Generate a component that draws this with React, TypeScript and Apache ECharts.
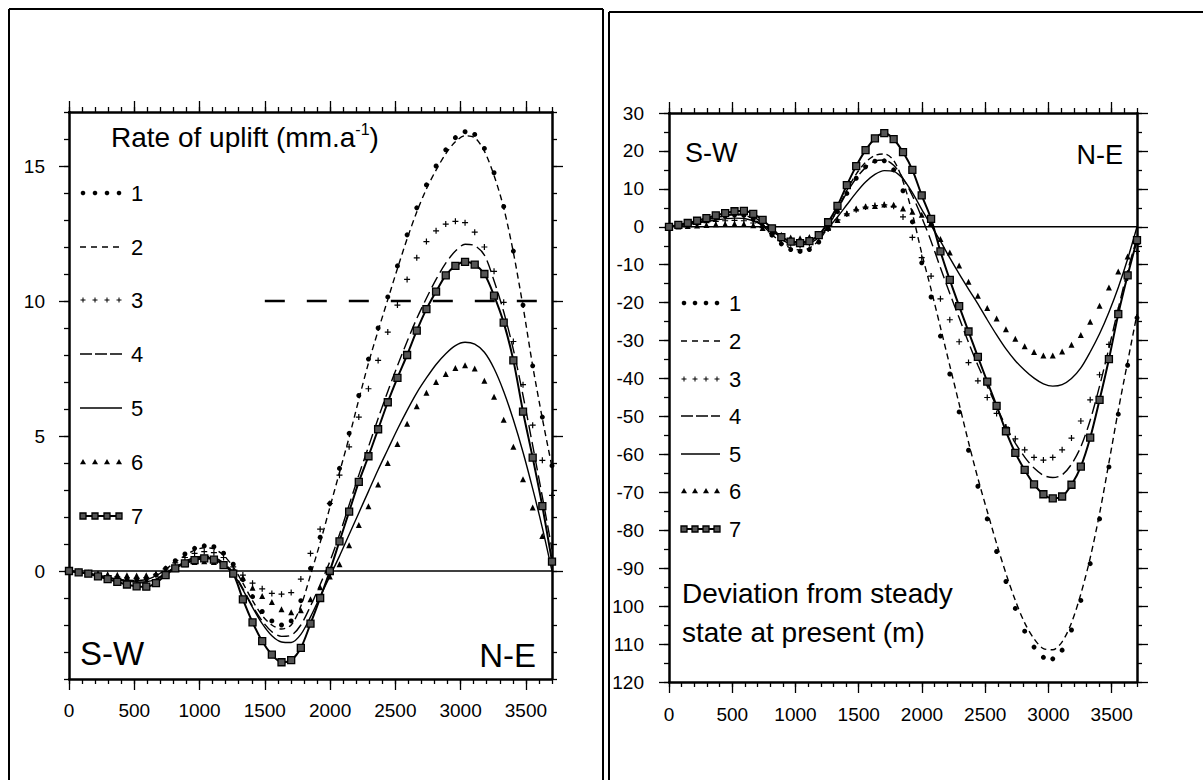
import React, { useEffect, useRef } from "react";
import * as echarts from "echarts";

const FONT = "'Liberation Sans', Arial, Helvetica, sans-serif";

// distance along the profile (m)
const xs = [0, 74, 148, 222, 296, 370, 444, 518, 592, 666, 740, 814, 888, 962, 1036, 1110, 1184, 1258, 1332, 1406, 1480, 1554, 1628, 1702, 1776, 1850, 1924, 1998, 2072, 2146, 2220, 2294, 2368, 2442, 2516, 2590, 2664, 2738, 2812, 2886, 2960, 3034, 3108, 3182, 3256, 3330, 3404, 3478, 3552, 3626, 3700];

const seriesNames = ["1", "2", "3", "4", "5", "6", "7"];

// Left panel: rate of uplift (mm/a)
const upliftS1 = [0, -0.05, -0.1, -0.15, -0.22, -0.28, -0.32, -0.33, -0.3, -0.15, 0.1, 0.38, 0.63, 0.84, 0.93, 0.9, 0.66, 0.25, -0.32, -0.95, -1.5, -1.85, -2.0, -1.85, -1.1, 0.1, 1.25, 2.5, 3.8, 5.1, 6.5, 7.85, 9.0, 10.15, 11.3, 12.45, 13.45, 14.3, 15.0, 15.6, 16.05, 16.27, 16.17, 15.65, 14.75, 13.5, 11.85, 9.85, 7.6, 5.7, 3.9];
const upliftS2 = [0, -0.05, -0.1, -0.16, -0.23, -0.3, -0.34, -0.35, -0.32, -0.18, 0.06, 0.33, 0.57, 0.77, 0.86, 0.82, 0.58, 0.15, -0.45, -1.1, -1.65, -2.0, -2.15, -2.0, -1.3, -0.15, 1.05, 2.35, 3.65, 4.95, 6.35, 7.7, 8.9, 10.05, 11.2, 12.3, 13.3, 14.15, 14.85, 15.45, 15.9, 16.12, 16.05, 15.55, 14.65, 13.45, 11.8, 9.8, 7.6, 5.65, 3.85];
const upliftS3 = [0, -0.03, -0.08, -0.12, -0.18, -0.22, -0.26, -0.27, -0.25, -0.12, 0.08, 0.3, 0.5, 0.65, 0.72, 0.68, 0.5, 0.15, -0.15, -0.45, -0.66, -0.83, -0.86, -0.8, -0.3, 0.65, 1.55, 2.5, 3.55, 4.6, 5.7, 6.75, 7.8, 8.85, 9.85, 10.8, 11.6, 12.2, 12.6, 12.85, 12.95, 12.9, 12.55, 12.0, 11.1, 9.95, 8.5, 6.9, 5.4, 4.1, 2.8];
const upliftS4 = [0, -0.04, -0.09, -0.16, -0.24, -0.32, -0.39, -0.44, -0.44, -0.33, -0.1, 0.15, 0.35, 0.5, 0.55, 0.5, 0.3, -0.05, -0.65, -1.3, -1.85, -2.25, -2.42, -2.38, -2.0, -1.3, -0.5, 0.35, 1.35, 2.45, 3.55, 4.6, 5.65, 6.65, 7.6, 8.5, 9.35, 10.1, 10.8, 11.4, 11.85, 12.1, 12.05, 11.7, 10.75, 9.6, 8.2, 6.5, 4.65, 2.75, 0.8];
const upliftS5 = [0, -0.04, -0.09, -0.16, -0.24, -0.31, -0.37, -0.41, -0.4, -0.3, -0.08, 0.15, 0.33, 0.46, 0.5, 0.45, 0.25, -0.1, -0.7, -1.35, -1.95, -2.4, -2.63, -2.65, -2.35, -1.7, -0.95, -0.2, 0.55, 1.35, 2.15, 2.95, 3.75, 4.5, 5.25, 5.95, 6.6, 7.15, 7.65, 8.05, 8.35, 8.47, 8.4, 8.1, 7.5, 6.65, 5.6, 4.4, 3.05, 1.6, 0.0];
const upliftS6 = [0, -0.03, -0.06, -0.09, -0.12, -0.14, -0.16, -0.17, -0.16, -0.1, 0.0, 0.12, 0.25, 0.33, 0.36, 0.33, 0.2, 0.0, -0.25, -0.62, -0.93, -1.15, -1.42, -1.53, -1.45, -1.05, -0.6, -0.2, 0.25, 0.95, 1.7, 2.4, 3.2, 4.0, 4.7, 5.45, 6.1, 6.6, 7.0, 7.3, 7.52, 7.62, 7.5, 7.05, 6.45, 5.6, 4.6, 3.4, 2.35, 1.3, 0.35];
const upliftS7 = [0, -0.05, -0.1, -0.2, -0.3, -0.4, -0.5, -0.57, -0.58, -0.45, -0.15, 0.1, 0.28, 0.4, 0.47, 0.42, 0.22, -0.1, -1.05, -1.9, -2.6, -3.1, -3.38, -3.3, -2.85, -1.95, -1.0, 0.0, 1.1, 2.2, 3.3, 4.25, 5.25, 6.25, 7.15, 8.0, 8.9, 9.7, 10.35, 10.95, 11.3, 11.45, 11.35, 11.0, 10.2, 9.2, 7.8, 5.9, 4.2, 2.4, 0.35];

// Right panel: deviation from steady state at present (m)
const devS1 = [0, 0.3, 0.7, 1.2, 1.7, 2.3, 2.8, 3.1, 3.0, 2.0, 0.2, -2.2, -4.5, -6.0, -6.5, -6.0, -4.0, -0.5, 4.0, 8.8, 12.8, 15.8, 17.3, 17.4, 15.0, 9.5, 1.3, -9.5, -18.5, -28.8, -38.8, -48.8, -58.9, -68.4, -77.0, -85.6, -93.5, -100.6, -106.6, -110.8, -113.5, -113.9, -111.6, -106.3, -98.5, -88.8, -77.0, -63.3, -49.4, -36.5, -24.0];
const devS2 = [0, 0.3, 0.7, 1.2, 1.8, 2.4, 2.9, 3.2, 3.1, 2.1, 0.3, -2.0, -4.2, -5.6, -6.1, -5.6, -3.6, 0.0, 4.6, 9.6, 13.9, 17.0, 18.8, 19.2, 17.5, 12.0, 3.5, -7.0, -16.5, -26.5, -36.6, -46.7, -56.8, -66.3, -75.0, -83.5, -91.4, -98.5, -104.4, -108.6, -111.2, -111.5, -109.4, -104.4, -96.8, -87.3, -75.6, -62.2, -48.4, -35.6, -23.0];
const devS3 = [0, 0.2, 0.5, 0.8, 1.1, 1.4, 1.6, 1.7, 1.6, 1.0, -0.2, -1.8, -3.4, -4.5, -4.9, -4.5, -3.0, -0.6, 1.8, 3.4, 4.5, 5.2, 5.6, 5.8, 5.4, 2.6, -2.8, -8.1, -13.0, -19.0, -24.5, -30.3, -35.8, -40.6, -45.0, -49.2, -52.8, -55.9, -58.8, -60.8, -61.5, -60.8, -58.8, -55.7, -51.2, -45.6, -39.0, -31.0, -22.0, -13.5, -6.5];
const devS4 = [0, 0.4, 0.8, 1.3, 1.9, 2.5, 3.0, 3.3, 3.3, 2.6, 1.0, -1.2, -3.3, -4.5, -4.8, -4.3, -2.8, 0.3, 4.5, 9.0, 12.8, 15.6, 17.3, 17.6, 16.2, 12.8, 8.2, 2.5, -3.8, -10.8, -17.6, -24.0, -30.5, -36.5, -42.0, -47.4, -52.6, -57.0, -60.7, -63.6, -65.5, -66.1, -65.4, -62.6, -58.0, -51.0, -42.0, -32.0, -21.5, -11.5, -3.0];
const devS5 = [0, 0.3, 0.6, 1.0, 1.4, 1.8, 2.1, 2.3, 2.2, 1.6, 0.4, -1.2, -2.7, -3.7, -4.0, -3.6, -2.4, -0.3, 2.6, 5.8, 9.0, 11.8, 13.8, 14.8, 14.6, 12.6, 9.0, 4.6, 0.4, -3.8, -8.2, -12.4, -16.4, -20.3, -24.5, -28.5, -32.2, -35.3, -37.8, -39.9, -41.4, -42.0, -41.6, -40.0, -37.2, -33.0, -28.2, -22.5, -16.0, -8.5, 0.0];
const devS6 = [0, 0.1, 0.2, 0.35, 0.5, 0.65, 0.75, 0.8, 0.75, 0.4, -0.3, -1.2, -2.1, -2.8, -3.0, -2.7, -1.8, -0.3, 1.8, 3.6, 4.8, 5.4, 5.5, 5.9, 5.8, 4.8, 4.0, 3.2, 1.0, -3.2, -6.8, -10.2, -14.5, -18.2, -21.4, -24.2, -27.0, -29.5, -31.5, -33.0, -33.9, -33.9, -32.9, -31.1, -28.5, -25.0, -20.8, -16.0, -11.8, -7.8, -4.0];
const devS7 = [0, 0.5, 1.0, 1.6, 2.3, 3.0, 3.6, 4.1, 4.2, 3.4, 1.8, -0.4, -2.7, -3.9, -4.3, -3.8, -2.2, 1.2, 5.5, 11.0, 16.0, 20.2, 23.3, 24.7, 23.1, 19.7, 15.0, 8.3, 2.1, -6.5, -14.0, -20.9, -27.6, -34.3, -40.8, -47.2, -53.9, -59.6, -64.1, -67.9, -70.5, -71.6, -71.1, -68.0, -63.2, -55.6, -45.6, -34.9, -23.0, -12.8, -3.5];

// axis ticks / labels
const xMajorTicks = [0, 500, 1000, 1500, 2000, 2500, 3000, 3500];
const upliftMajorTicks = [0, 5, 10, 15];
const devMajorTicks = [-120, -110, -100, -90, -80, -70, -60, -50, -40, -30, -20, -10, 0, 10, 20, 30];

// reference lines
const zeroLineX = [0, 3700];
const refLineX = [1500, 3600];
const refLineValue = 10;

const upliftSeries = [upliftS1, upliftS2, upliftS3, upliftS4, upliftS5, upliftS6, upliftS7];
const devSeries = [devS1, devS2, devS3, devS4, devS5, devS6, devS7];

const PLUS = "path://M4,0H6V4H10V6H6V10H4V6H0V4H4Z";

type Sty = {
  symbol: string;
  size: number;
  line: null | { type: any; width: number };
  item: any;
};
const seriesStyles: Sty[] = [
  { symbol: "circle", size: 5, line: null, item: { color: "#000" } },
  { symbol: "none", size: 0, line: { type: [6, 4], width: 1.4 }, item: { color: "#000" } },
  { symbol: PLUS, size: 6, line: null, item: { color: "#000" } },
  { symbol: "none", size: 0, line: { type: [12, 5], width: 1.4 }, item: { color: "#000" } },
  { symbol: "none", size: 0, line: { type: "solid", width: 1.4 }, item: { color: "#000" } },
  { symbol: "triangle", size: 6, line: null, item: { color: "#000" } },
  { symbol: "rect", size: 7, line: { type: "solid", width: 2 }, item: { color: "#555", borderColor: "#000", borderWidth: 1.3 } },
];

const axisLineStyle = { color: "#000", width: 2.5 };
const tickLine = { color: "#000", width: 1.3 };
const plainNumber = (v: number) => String(v);

function xAxesFor(gridIndex: number, labelMargin: number) {
  const base = { type: "value", gridIndex, min: 0, max: 3700, splitLine: { show: false } };
  return [
    {
      ...base, position: "bottom", interval: 500,
      axisLine: { show: true, onZero: false, lineStyle: axisLineStyle },
      axisTick: { show: true, inside: false, length: 11, customValues: xMajorTicks, lineStyle: tickLine },
      axisLabel: { show: true, customValues: xMajorTicks, margin: labelMargin, fontSize: 19, fontFamily: FONT, color: "#000", formatter: plainNumber },
    },
    {
      ...base, position: "bottom", interval: 100,
      axisLine: { show: false, onZero: false },
      axisTick: { show: true, inside: false, length: 5, lineStyle: tickLine },
      axisLabel: { show: false },
    },
    {
      ...base, position: "top", interval: 500,
      axisLine: { show: true, onZero: false, lineStyle: axisLineStyle },
      axisTick: { show: true, inside: false, length: 11, customValues: xMajorTicks, lineStyle: tickLine },
      axisLabel: { show: false },
    },
    {
      ...base, position: "top", interval: 100,
      axisLine: { show: false, onZero: false },
      axisTick: { show: true, inside: false, length: 5, lineStyle: tickLine },
      axisLabel: { show: false },
    },
  ];
}

function yAxesFor(gridIndex: number, min: number, max: number, majorTicks: number[], minorInterval: number, labelMargin: number, formatter: (v: number) => string) {
  const base = { type: "value", gridIndex, min, max, splitLine: { show: false } };
  return [
    {
      ...base, position: "left",
      axisLine: { show: true, onZero: false, lineStyle: axisLineStyle },
      axisTick: { show: true, inside: false, length: 10, customValues: majorTicks, lineStyle: tickLine },
      axisLabel: { show: true, customValues: majorTicks, margin: labelMargin, fontSize: 19, fontFamily: FONT, color: "#000", formatter },
    },
    {
      ...base, position: "left", interval: minorInterval,
      axisLine: { show: false, onZero: false },
      axisTick: { show: true, inside: false, length: 5, lineStyle: tickLine },
      axisLabel: { show: false },
    },
    {
      ...base, position: "right",
      axisLine: { show: true, onZero: false, lineStyle: axisLineStyle },
      axisTick: { show: true, inside: false, length: 11, customValues: majorTicks, lineStyle: tickLine },
      axisLabel: { show: false },
    },
    {
      ...base, position: "right", interval: minorInterval,
      axisLine: { show: false, onZero: false },
      axisTick: { show: true, inside: false, length: 5, lineStyle: tickLine },
      axisLabel: { show: false },
    },
  ];
}

function makeSeries(arrs: number[][], xAxisIndex: number, yAxisIndex: number, prefix: string) {
  return arrs.map((arr, k) => {
    const st = seriesStyles[k];
    return {
      name: prefix + seriesNames[k],
      type: "line",
      xAxisIndex,
      yAxisIndex,
      data: xs.map((x, i) => [x, arr[i]]),
      symbol: st.symbol,
      symbolSize: st.size,
      showSymbol: st.symbol !== "none",
      showAllSymbol: true,
      smooth: 0.3,
      lineStyle: st.line ? { color: "#000", width: st.line.width, type: st.line.type } : { width: 0, opacity: 0 },
      itemStyle: st.item,
      silent: true,
      z: 3 + k,
    };
  });
}

function legendElements(x0: number, x1: number, ys: number[], numX: number, fontSize: number) {
  const els: any[] = [];
  const w = x1 - x0;
  ys.forEach((y, k) => {
    const pts = [0, 1, 2, 3].map((j) => x0 + 3 + (j * (w - 6)) / 3);
    if (k === 0) {
      pts.forEach((px) => els.push({ type: "circle", shape: { cx: px, cy: y, r: 2.3 }, style: { fill: "#000" } }));
    } else if (k === 1) {
      els.push({ type: "line", shape: { x1: x0, y1: y, x2: x1, y2: y }, style: { stroke: "#000", lineWidth: 1.4, lineDash: [6, 5] } });
    } else if (k === 2) {
      pts.forEach((px) => {
        els.push({ type: "line", shape: { x1: px - 2.5, y1: y, x2: px + 2.5, y2: y }, style: { stroke: "#000", lineWidth: 1 } });
        els.push({ type: "line", shape: { x1: px, y1: y - 2.5, x2: px, y2: y + 2.5 }, style: { stroke: "#000", lineWidth: 1 } });
      });
    } else if (k === 3) {
      els.push({ type: "line", shape: { x1: x0, y1: y, x2: x1, y2: y }, style: { stroke: "#000", lineWidth: 1.5, lineDash: [12, 3] } });
    } else if (k === 4) {
      els.push({ type: "line", shape: { x1: x0, y1: y, x2: x1, y2: y }, style: { stroke: "#000", lineWidth: 1.5 } });
    } else if (k === 5) {
      pts.forEach((px) =>
        els.push({ type: "polygon", shape: { points: [[px, y - 3], [px - 3, y + 2.3], [px + 3, y + 2.3]] }, style: { fill: "#000" } })
      );
    } else {
      els.push({ type: "line", shape: { x1: x0, y1: y, x2: x1, y2: y }, style: { stroke: "#000", lineWidth: 2 } });
      pts.forEach((px) =>
        els.push({ type: "rect", shape: { x: px - 3, y: y - 3, width: 6, height: 6 }, style: { fill: "#555", stroke: "#000", lineWidth: 1.3 } })
      );
    }
    els.push({
      type: "text", x: numX, y,
      style: { text: seriesNames[k], fontSize, fontFamily: FONT, fill: "#000", verticalAlign: "middle", align: "left" },
    });
  });
  return els;
}

export default function App() {
  const ref = useRef<HTMLDivElement>(null);
  useEffect(() => {
    const chart = echarts.init(ref.current!, null, { renderer: "svg" });

    const frame = { stroke: "#000", lineWidth: 2 };
    const graphics: any[] = [
      { type: "line", shape: { x1: 9, y1: 9, x2: 603, y2: 9 }, style: frame },
      { type: "line", shape: { x1: 9, y1: 9, x2: 9, y2: 780 }, style: frame },
      { type: "line", shape: { x1: 603, y1: 9, x2: 603, y2: 780 }, style: frame },
      { type: "line", shape: { x1: 609, y1: 12, x2: 609, y2: 780 }, style: frame },
      { type: "line", shape: { x1: 609, y1: 12, x2: 1203, y2: 12 }, style: frame },
      {
        type: "text", x: 111, y: 137,
        style: {
          text: "{n|Rate of uplift (mm.a}{s|-1}{n|)}",
          rich: {
            n: { fontSize: 28, fontFamily: FONT, fill: "#000", lineHeight: 32 },
            s: { fontSize: 16, fontFamily: FONT, fill: "#000", verticalAlign: "top", lineHeight: 17 },
          },
          fill: "#000", verticalAlign: "middle", align: "left",
        },
      },
      { type: "text", x: 80, y: 653, style: { text: "S-W", fontSize: 33, fontFamily: FONT, fill: "#000", verticalAlign: "middle", align: "left" } },
      { type: "text", x: 536, y: 655, style: { text: "N-E", fontSize: 33, fontFamily: FONT, fill: "#000", verticalAlign: "middle", align: "right" } },
      { type: "text", x: 685, y: 153, style: { text: "S-W", fontSize: 27, fontFamily: FONT, fill: "#000", verticalAlign: "middle", align: "left" } },
      { type: "text", x: 1123, y: 155, style: { text: "N-E", fontSize: 27, fontFamily: FONT, fill: "#000", verticalAlign: "middle", align: "right" } },
      { type: "text", x: 682, y: 593, style: { text: "Deviation from steady", fontSize: 28, fontFamily: FONT, fill: "#000", verticalAlign: "middle", align: "left" } },
      { type: "text", x: 682, y: 632, style: { text: "state at present (m)", fontSize: 28, fontFamily: FONT, fill: "#000", verticalAlign: "middle", align: "left" } },
      ...legendElements(80, 122, [193, 247, 300, 354, 408, 462, 516], 131, 22),
      ...legendElements(681, 720, [303, 341, 379, 416, 454, 491, 529], 729, 22),
    ];

    const option: any = {
      animation: false,
      backgroundColor: "#fff",
      textStyle: { fontFamily: FONT },
      grid: [
        { left: 69, top: 112, width: 483, height: 567, containLabel: false },
        { left: 669, top: 113, width: 468, height: 569, containLabel: false },
      ],
      xAxis: [...xAxesFor(0, 22), ...xAxesFor(1, 23)],
      yAxis: [
        ...yAxesFor(0, -4, 17, upliftMajorTicks, 1, 24, plainNumber),
        ...yAxesFor(1, -120, 30, devMajorTicks, 5, 25, (v: number) => (v <= -100 ? String(-v) : String(v))),
      ],
      series: [
        {
          name: "zero-left", type: "line", xAxisIndex: 0, yAxisIndex: 0, silent: true, symbol: "none",
          data: zeroLineX.map((x) => [x, 0]), lineStyle: { color: "#000", width: 1.5 }, z: 2,
        },
        {
          name: "ref-left", type: "line", xAxisIndex: 0, yAxisIndex: 0, silent: true, symbol: "none",
          data: refLineX.map((x) => [x, refLineValue]), lineStyle: { color: "#000", width: 2.5, type: [20, 22] }, z: 2,
        },
        {
          name: "zero-right", type: "line", xAxisIndex: 4, yAxisIndex: 4, silent: true, symbol: "none",
          data: zeroLineX.map((x) => [x, 0]), lineStyle: { color: "#000", width: 1.5 }, z: 2,
        },
        ...makeSeries(upliftSeries, 0, 0, "uplift "),
        ...makeSeries(devSeries, 4, 4, "deviation "),
      ],
      graphic: { elements: graphics },
    };
    chart.setOption(option);
    return () => chart.dispose();
  }, []);
  return <div ref={ref} style={{ position: "absolute", left: 0, top: 0, width: 1203, height: 780, background: "#fff" }} />;
}
